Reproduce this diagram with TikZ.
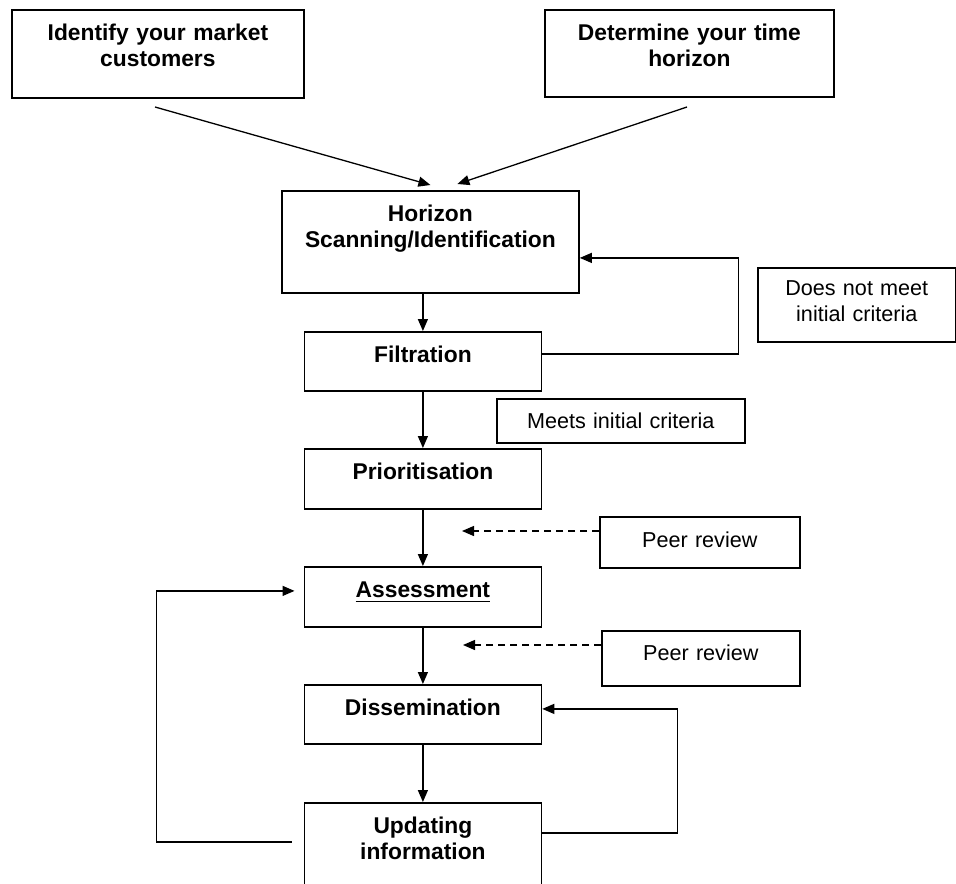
\documentclass[tikz,border=0pt]{standalone}
\usepackage{fontspec}
\setmainfont{Liberation Sans}
\usetikzlibrary{arrows.meta}

\begin{document}
\begin{tikzpicture}[x=0.5pt, y=-0.5pt,
    stage/.style ={draw, line width=0.9pt, anchor=north west, inner sep=0pt,
      align=center, text height=15.5pt, font=\fontsize{11.4}{13}\selectfont\bfseries},
    note/.style ={draw, line width=0.8pt, anchor=north west, inner sep=0pt,
      align=center, font=\fontsize{10.8}{13}\selectfont},
    arr/.style ={line width=0.65pt, -{Triangle[length=6pt, width=5pt]}},
    dasharr/.style ={arr, dash pattern=on 3.5pt off 2.5pt}]
   \useasboundingbox (0,0) rectangle (956,883);
   \clip (0,0) rectangle (956,883);
   % stages
   \node[stage, text width=146pt, text depth=28.5pt] (identify) at (11,9) {Identify your market\\customers};
   \node[stage, text width=144.5pt, text depth=28pt] (determine) at (544,9) {Determine your time\\horizon};
   \node[stage, text width=148.5pt, text depth=35.5pt] (horizon) at (281,190) {Horizon\\Scanning/Identification};
   \node[stage, text width=118.5pt, text depth=14pt] (filtration) at (303.5,331) {Filtration};
   \node[stage, text width=118.5pt, text depth=14.5pt] (prior) at (303.5,448) {Prioritisation};
   \node[stage, text width=118.5pt, text depth=14.5pt] (assess) at (303.5,566) {\underline{Assessment}};
   \node[stage, text width=118.5pt, text depth=14pt] (dissem) at (303.5,684) {Dissemination};
   \node[stage, text width=118.5pt, text depth=40pt] (update) at (303.5,802) {Updating\\information};
   % notes
   \node[note, text width=99pt, text height=14pt, text depth=23pt] (doesnot) at (757,267) {Does not meet\\initial criteria};
   \node[note, text width=124pt, text height=15pt, text depth=7pt] (meets) at (496,398) {Meets initial criteria};
   \node[note, text width=100pt, text height=15.5pt, text depth=10pt] (peer1) at (599,516) {Peer review};
   \node[note, text width=99pt, text height=15pt, text depth=12.5pt] (peer2) at (601,630) {Peer review};
   % connectors
   \coordinate (idout) at (155,107);
   \coordinate (dtout) at (687,107);
   \draw[arr] (idout) -- ([yshift=2.5pt]horizon.north);
   \draw[arr] (dtout) -- ([xshift=13.5pt,yshift=3pt]horizon.north);
   \draw[arr] (horizon.south -| filtration.north) -- (filtration.north);
   \foreach \a/\b in {filtration/prior, prior/assess, assess/dissem, dissem/update}
      \draw[arr] (\a.south) -- (\b.north);
   \draw[arr] ([yshift=3.75pt]filtration.east) -- ++(196,0) |- ([yshift=-8pt]horizon.east);
   \coordinate (pr1tip) at (462,531);
   \coordinate (pr2tip) at (463,645);
   \draw[dasharr] (pr1tip -| peer1.west) -- (pr1tip);
   \draw[dasharr] (pr2tip -| peer2.west) -- (pr2tip);
   \draw[arr] ([yshift=-15.5pt]update.north east) -- ++(135,0) |- ([yshift=2.75pt]dissem.east);
   \draw[arr] ([xshift=-6pt,yshift=-20pt]update.north west) -- ++(-135,0) |- ([xshift=-4.5pt,yshift=3pt]assess.west);
\end{tikzpicture}
\end{document}
